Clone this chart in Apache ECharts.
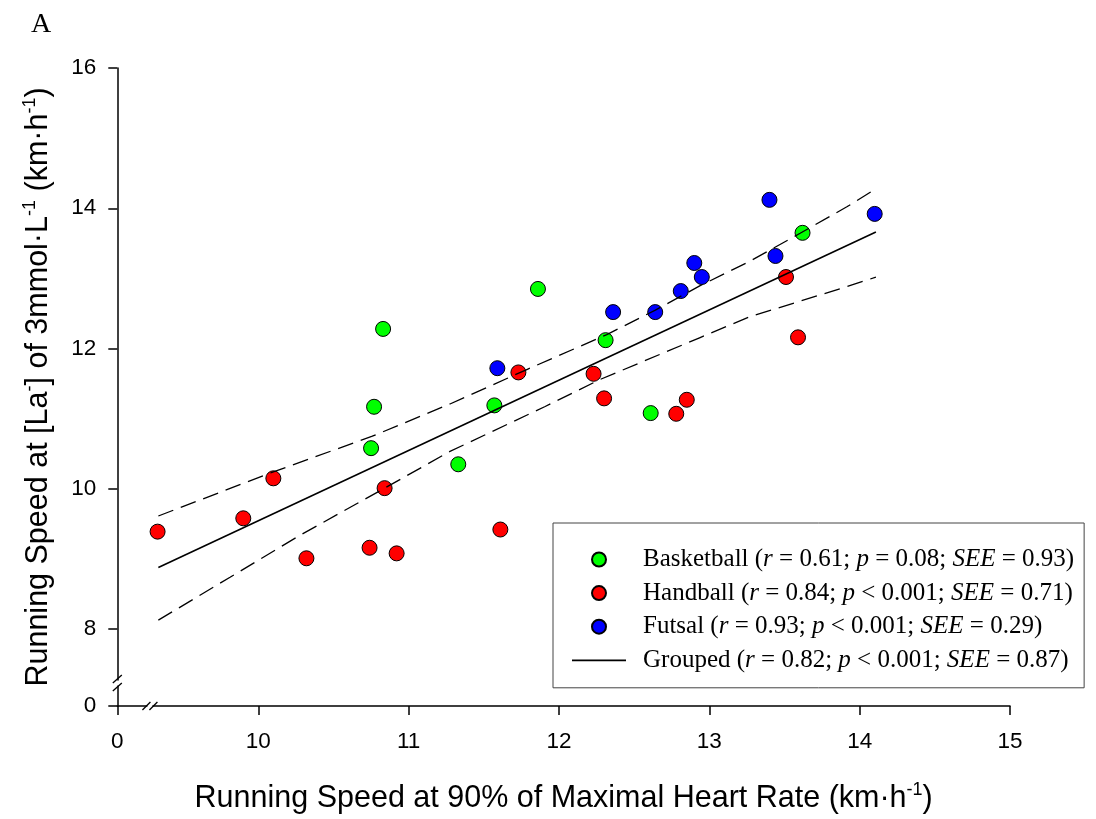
<!DOCTYPE html>
<html><head><meta charset="utf-8">
<script src="https://cdn.jsdelivr.net/npm/echarts@6/dist/echarts.min.js"></script>
<style>html,body{margin:0;padding:0;background:#fff}#c{width:1096px;height:819px}</style>
</head><body><div id="c"></div>
<script>
// ---- data ----
const basketball = [[10.75,10.58],[10.77,11.17],[10.83,12.28],[11.33,10.35],[11.57,11.19],[11.86,12.85],[12.31,12.12],[12.61,11.08],[13.62,13.65]];
const handball = [[9.33,9.39],[9.90,9.58],[10.10,10.15],[10.32,9.01],[10.74,9.16],[10.84,10.01],[10.92,9.08],[11.61,9.42],[11.73,11.66],[12.23,11.64],[12.30,11.29],[12.78,11.07],[12.85,11.27],[13.51,13.02],[13.59,12.16]];
const futsal = [[11.59,11.72],[12.36,12.52],[12.64,12.52],[12.81,12.82],[12.90,13.22],[12.95,13.02],[13.40,14.12],[13.44,13.32],[14.10,13.92]];
const groupedLine = [[9.335,8.878],[14.108,13.661]];
const upperBand = [[9.335,9.613],[10.100,10.242],[10.754,10.747],[11.275,11.210],[11.786,11.701],[12.318,12.199],[12.641,12.548],[12.939,12.897],[13.271,13.246],[13.604,13.644],[13.915,14.021],[14.108,14.278]];
const lowerBand = [[9.335,8.128],[9.812,8.740],[10.277,9.338],[10.832,10.000],[11.275,10.534],[11.908,11.174],[12.273,11.559],[12.939,12.157],[13.271,12.456],[13.604,12.676],[13.915,12.883],[14.108,13.018]];

const seriesNames = ['Basketball','Handball','Futsal','Grouped'];
const rValues = ['0.61','0.84','0.93','0.82'];
const pValues = ['= 0.08','< 0.001','< 0.001','< 0.001'];
const seeValues = ['0.93','0.71','0.29','0.87'];

const xTickValues = [9.062,10,11,12,13,14,15];
const xTickLabels = ['0','10','11','12','13','14','15'];
const yTickValues = [6.904,8,10,12,14,16];
const yTickLabels = ['0','8','10','12','14','16'];
const xAxisMin = 9.062, xAxisMax = 15;
const yAxisMin = 6.904, yAxisMax = 16;
const xBreakValue = 9.279, yBreakValue = 7.231;

// ---- chart ----
const SANS = 'Liberation Sans, Arial, sans-serif';
const SERIF = 'Liberation Serif, Times New Roman, serif';
const chart = echarts.init(document.getElementById('c'), null, {renderer:'canvas'});

function labelFor(values, labels){
  return function(v){
    for (let i=0;i<values.length;i++){ if (Math.abs(values[i]-v) < 1e-6) return labels[i]; }
    return '';
  };
}

const legendMap = {};
seriesNames.forEach((n,i)=>{ legendMap[n] = '{n|' + n + ' (}{i|r}{n| = ' + rValues[i] + '; }{i|p}{n| ' + pValues[i] + '; }{i|SEE}{n| = ' + seeValues[i] + ')}'; });

const legendRich = {
  n:{fontFamily:SERIF, fontSize:25, lineHeight:20, color:'#000'},
  i:{fontFamily:SERIF, fontSize:25, lineHeight:20, fontStyle:'italic', color:'#000'}
};

const titleRich = {
  t:{fontFamily:SANS, fontSize:30.5, lineHeight:35, color:'#000'},
  s:{fontFamily:SANS, fontSize:18, lineHeight:18, verticalAlign:'top', color:'#000'}
};

const scatterStyle = (c)=>({color:c, borderColor:'#000', borderWidth:1, opacity:1});

const legendData = seriesNames.map((n,i)=> i === 3
  ? {name:n, icon:'path://M0,0 L54,0 L54,1.7 L0,1.7 Z', itemStyle:{color:'#000', borderWidth:0}}
  : {name:n, icon:'circle'});

const option = {
  animation:false,
  backgroundColor:'#fff',
  title:{text:'A', left:26, top:6, textStyle:{fontFamily:SERIF, fontWeight:'normal', fontSize:28, color:'#000'}},
  grid:{left:117.3, right:86, top:68, bottom:112, containLabel:false},
  legend:{
    orient:'vertical', left:553, top:523,
    padding:[24,10,15,19],
    itemWidth:54, itemHeight:14, itemGap:8.6,
    borderColor:'#444', borderWidth:1,
    data:legendData,
    formatter:(name)=>legendMap[name],
    textStyle:{fontFamily:SERIF, fontSize:25, lineHeight:20, color:'#000', padding:[0,0,0,12], rich:legendRich},
    selectedMode:false
  },
  xAxis:{
    type:'value', min:xAxisMin, max:xAxisMax,
    name:'{t|Running Speed at 90% of Maximal Heart Rate (km·h}{s|-1}{t|)}',
    nameLocation:'middle', nameGap:75,
    nameTextStyle:{rich:titleRich},
    axisLine:{show:true, onZero:false, lineStyle:{color:'#000', width:1.5}},
    axisTick:{show:true, length:9, inside:false, customValues:xTickValues, lineStyle:{color:'#000', width:1.5}},
    axisLabel:{customValues:xTickValues, formatter:labelFor(xTickValues,xTickLabels), fontFamily:SANS, fontSize:22.5, color:'#000', margin:24},
    splitLine:{show:false}
  },
  yAxis:{
    type:'value', min:yAxisMin, max:yAxisMax,
    name:'{t|Running Speed at [La}{s|-}{t|] of 3mmol·L}{s|-1}{t| (km·h}{s|-1}{t|)}',
    nameLocation:'middle', nameGap:61,
    nameTextStyle:{rich:titleRich},
    axisLine:{show:true, onZero:false, lineStyle:{color:'#000', width:1.5}},
    axisTick:{show:true, length:9, inside:false, customValues:yTickValues, lineStyle:{color:'#000', width:1.5}},
    axisLabel:{customValues:yTickValues, formatter:labelFor(yTickValues,yTickLabels), fontFamily:SANS, fontSize:22.5, color:'#000', margin:21},
    splitLine:{show:false}
  },
  series:[
    {name:'Basketball', type:'scatter', data:basketball, symbol:'circle', symbolSize:15, itemStyle:scatterStyle('#00ff00'), z:2},
    {name:'Handball', type:'scatter', data:handball, symbol:'circle', symbolSize:15, itemStyle:scatterStyle('#ff0000'), z:2},
    {name:'Futsal', type:'scatter', data:futsal, symbol:'circle', symbolSize:15, itemStyle:scatterStyle('#0000ff'), z:2},
    {name:'Grouped', type:'line', data:groupedLine, showSymbol:false, symbol:'none', lineStyle:{color:'#000', width:1.6}, itemStyle:{color:'#000'}, z:3},
    {name:'Upper 95% CI', type:'line', data:upperBand, showSymbol:false, symbol:'none', lineStyle:{color:'#000', width:1.3, type:[16,8]}, z:3},
    {name:'Lower 95% CI', type:'line', data:lowerBand, showSymbol:false, symbol:'none', lineStyle:{color:'#000', width:1.3, type:[16,8]}, z:3}
  ]
};
chart.setOption(option);

// axis break marks
function drawBreaks(){
  const xb = chart.convertToPixel({gridIndex:0},[xBreakValue, yAxisMin]);
  const yb = chart.convertToPixel({gridIndex:0},[xAxisMin, yBreakValue]);
  const ls = {stroke:'#000', lineWidth:1.3};
  chart.setOption({graphic:[
    {type:'rect', z:100, shape:{x:xb[0]-2.5, y:xb[1]-2, width:5, height:4}, style:{fill:'#fff'}},
    {type:'line', z:101, shape:{x1:xb[0]-7.5, y1:xb[1]+4, x2:xb[0]+0.5, y2:xb[1]-4}, style:ls},
    {type:'line', z:101, shape:{x1:xb[0]-0.5, y1:xb[1]+4, x2:xb[0]+7.5, y2:xb[1]-4}, style:ls},
    {type:'rect', z:100, shape:{x:yb[0]-2, y:yb[1]-2.5, width:4, height:5}, style:{fill:'#fff'}},
    {type:'line', z:101, shape:{x1:yb[0]-4.5, y1:yb[1], x2:yb[0]+4.5, y2:yb[1]-8}, style:ls},
    {type:'line', z:101, shape:{x1:yb[0]-4.5, y1:yb[1]+8, x2:yb[0]+4.5, y2:yb[1]}, style:ls}
  ]});
}
drawBreaks();
</script>
</body></html>
